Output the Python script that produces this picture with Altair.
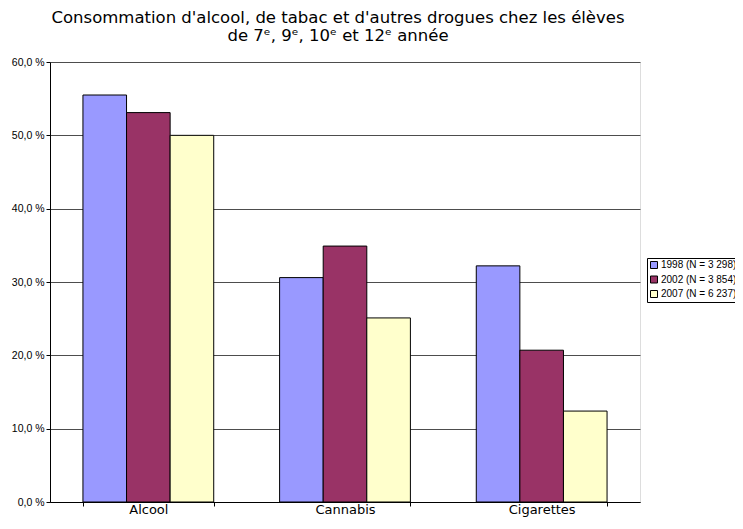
import altair as alt
import pandas as pd

categories = ["Alcool", "Cannabis", "Cigarettes"]
series = ["1998 (N = 3 298)", "2002 (N = 3 854)", "2007 (N = 6 237)"]
v1998 = [55.5, 30.6, 32.2]
v2002 = [53.1, 34.9, 20.7]
v2007 = [50.0, 25.1, 12.4]
colors = ["#9999FF", "#993366", "#FFFFCC"]
y_ticks = [0, 10, 20, 30, 40, 50, 60]
title_lines = [
    "Consommation d'alcool, de tabac et d'autres drogues chez les élèves",
    "de 7ᵉ, 9ᵉ, 10ᵉ et 12ᵉ année",
]

rows = []
for s, vals in zip(series, [v1998, v2002, v2007]):
    for c, v in zip(categories, vals):
        rows.append({"cat": c, "serie": s, "val": v})
df = pd.DataFrame(rows)

FONT = "Liberation Sans"
WIDE = "DejaVu Sans"

chart = (
    alt.Chart(df)
    .mark_bar(stroke="black", strokeWidth=1)
    .encode(
        x=alt.X(
            "cat:N",
            sort=categories,
            scale=alt.Scale(paddingInner=0.335, paddingOuter=0.1675),
            axis=alt.Axis(
                title=None,
                labelAngle=0,
                labelFontSize=13,
                labelFont=WIDE,
                labelColor="black",
                labelPadding=-3,
                tickBand="extent",
                tickSize=4,
                tickColor="black",
                domainColor="black",
                grid=False,
            ),
        ),
        xOffset=alt.XOffset("serie:N", sort=series, scale=alt.Scale(paddingInner=0, paddingOuter=0)),
        y=alt.Y(
            "val:Q",
            scale=alt.Scale(domain=[0, 60], nice=False),
            axis=alt.Axis(
                title=None,
                values=y_ticks,
                labelExpr="replace(format(datum.value, '.1f'), '.', ',') + ' %'",
                labelFontSize=10.5,
                labelFont=FONT,
                labelColor="black",
                labelPadding=2,
                tickSize=4,
                tickColor="black",
                domainColor="black",
                grid=True,
                gridColor="#4d4d4d",
                gridWidth=1,
            ),
        ),
        fill=alt.Fill(
            "serie:N",
            sort=series,
            scale=alt.Scale(domain=series, range=colors),
            legend=alt.Legend(
                title=None,
                orient="none",
                legendX=597,
                legendY=196,
                padding=2,
                strokeColor="black",
                fillColor="white",
                symbolType="square",
                symbolSize=49,
                symbolStrokeColor="black",
                symbolStrokeWidth=1,
                labelFontSize=10,
                labelFont=FONT,
                labelColor="black",
                labelOffset=2,
                rowPadding=2.5,
            ),
        ),
    )
    .properties(
        width=590,
        height=440,
        autosize=alt.AutoSizeParams(type="none"),
        padding={"left": 42, "top": 54, "right": 95, "bottom": 15},
        title=alt.TitleParams(
            text=title_lines,
            font=WIDE,
            fontSize=16.5,
            fontWeight="normal",
            color="black",
            anchor="middle",
            frame="group",
            lineHeight=18,
            offset=13,
            dx=-7,
        ),
    )
    .configure_view(fill="#C0C0C0", stroke="#808080", strokeWidth=1)
    .configure(background="white")
)

chart.save("out.html", embed_options={"renderer": "svg", "actions": False})
